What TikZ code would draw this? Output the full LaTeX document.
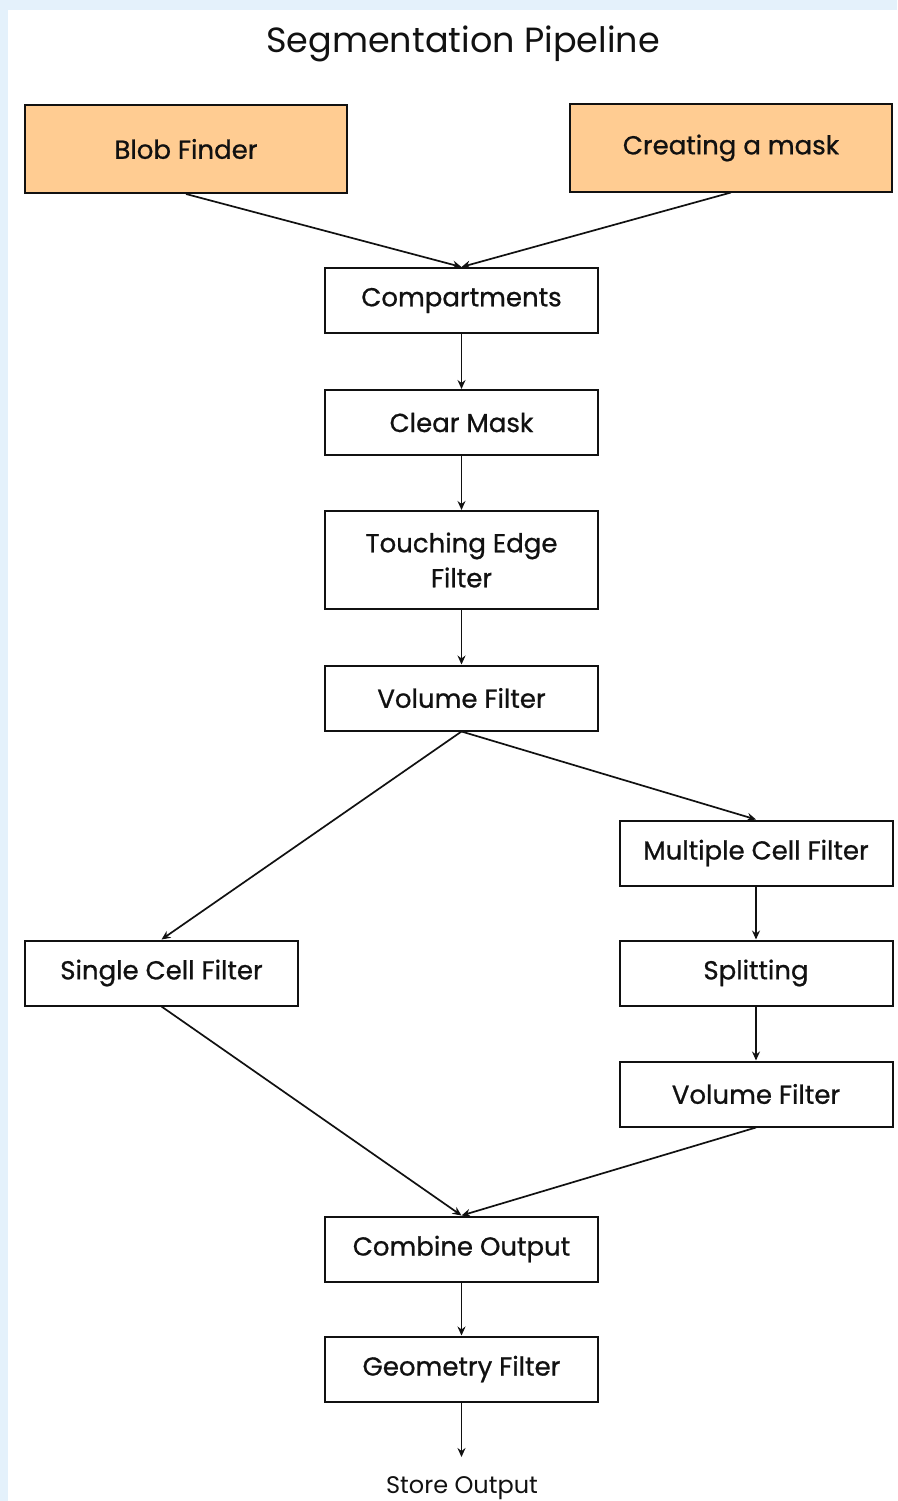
\documentclass[tikz,border=0pt]{standalone}
\usepackage{fontspec}
\setmainfont{Poppins}
\newfontfamily\labfont{Poppins}[FakeBold=0.8]
\usetikzlibrary{arrows.meta}
\definecolor{bgblue}{HTML}{E4F1FB}
\definecolor{boxorange}{HTML}{FFCC92}
\definecolor{ink}{HTML}{111111}
\tikzset{
  box/.style={draw=ink, line width=2pt, fill=white, minimum width=273pt, minimum height=65pt,
    inner sep=0pt, align=center, font=\labfont\fontsize{26}{35}\selectfont, text=ink},
  srcbox/.style={box, fill=boxorange, minimum width=322pt, minimum height=88pt},
  conn/.style={draw=ink, line width=1.7pt, -{Stealth[length=9pt,width=8pt,inset=3pt]}},
}
\begin{document}
\begin{tikzpicture}[x=1pt,y=-1pt]
\useasboundingbox (0,0) rectangle (897,1501);
\fill[bgblue] (0,0) rectangle (897,1501);
\fill[white] (8,10) rectangle (897,1501);
\node[font=\fontsize{35}{40}\selectfont, text=ink] (title) at (463,44) {Segmentation Pipeline};
\node[srcbox] (blob) at (186,149) {Blob Finder};
\node[srcbox, minimum height=87pt] (mask) at (731,148) {Creating a mask};
\node[box] (comp) at (461.5,300.5) {Compartments};
\node[box] (clear) at (461.5,422.5) {Clear Mask};
\node[box, minimum height=98pt] (touch) at (461.5,560) {Touching Edge\\Filter};
\node[box] (vol1) at (461.5,698) {Volume Filter};
\node[box] (multi) at (756,853) {Multiple Cell Filter};
\node[box] (single) at (161.5,973) {Single Cell Filter};
\node[box] (split) at (756,973) {Splitting};
\node[box] (vol2) at (756,1094) {Volume Filter};
\node[box] (comb) at (461.5,1249) {Combine Output};
\node[box] (geom) at (461.5,1369) {Geometry Filter};
\node[font=\fontsize{24}{28}\selectfont, text=ink, inner sep=0pt] (store) at (462,1488) {Store Output};
\coordinate (storein) at (461.5,1457);
\draw[conn] (blob.south) -- (comp.north);
\draw[conn] (mask.south) -- (comp.north);
\draw[conn] (comp) -- (clear);
\draw[conn] (clear) -- (touch);
\draw[conn] (touch) -- (vol1);
\draw[conn] (vol1.south) -- (single.north);
\draw[conn] (vol1.south) -- (multi.north);
\draw[conn] (multi) -- (split);
\draw[conn] (split) -- (vol2);
\draw[conn] (single.south) -- (comb.north);
\draw[conn] (vol2.south) -- (comb.north);
\draw[conn] (comb) -- (geom);
\draw[conn] (geom.south) -- (storein);
\end{tikzpicture}
\end{document}
